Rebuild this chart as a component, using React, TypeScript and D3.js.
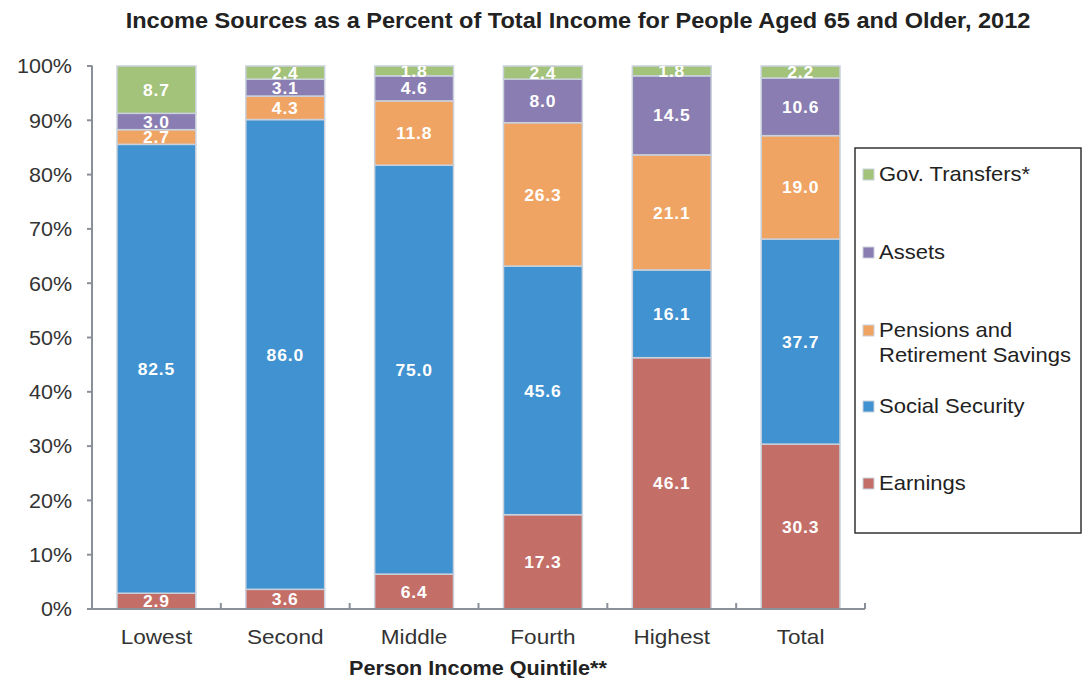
import * as d3 from "d3";
import { useEffect, useRef } from "react";

const categories = ["Lowest", "Second", "Middle", "Fourth", "Highest", "Total"];
const seriesNames = [
  "Earnings",
  "Social Security",
  "Pensions and Retirement Savings",
  "Assets",
  "Gov. Transfers*",
];
const earnings = [2.9, 3.6, 6.4, 17.3, 46.1, 30.3];
const socialSecurity = [82.5, 86.0, 75.0, 45.6, 16.1, 37.7];
const pensions = [2.7, 4.3, 11.8, 26.3, 21.1, 19.0];
const assets = [3.0, 3.1, 4.6, 8.0, 14.5, 10.6];
const govTransfers = [8.7, 2.4, 1.8, 2.4, 1.8, 2.2];
const yTicks = [0, 0.1, 0.2, 0.3, 0.4, 0.5, 0.6, 0.7, 0.8, 0.9, 1];

const colors = ["#c46e68", "#4192d0", "#f0a463", "#8a7db2", "#a3c27a"];

const FONT = "'Liberation Sans', Arial, sans-serif";

// text that is a bit wider than Arial, like the source image
function addText(
  parent: any,
  x: number,
  y: number,
  str: string,
  opt: { size: number; bold?: boolean; anchor?: string; sx?: number; fill?: string; dy?: string; ls?: number }
) {
  return parent
    .append("text")
    .attr("transform", `translate(${x},${y}) scale(${opt.sx ?? 1},1)`)
    .attr("dy", opt.dy ?? null)
    .attr("text-anchor", opt.anchor ?? "start")
    .attr("font-family", FONT)
    .attr("font-weight", opt.bold ? "bold" : "normal")
    .attr("font-size", opt.size)
    .attr("letter-spacing", opt.ls ?? null)
    .attr("fill", opt.fill ?? "#222")
    .text(str);
}

export default function App() {
  const ref = useRef<SVGSVGElement>(null);

  useEffect(() => {
    const svg = d3.select(ref.current);
    svg.selectAll("*").remove();

    const width = 1087;
    const height = 678;
    const left = 92;
    const right = 865;
    const top = 66;
    const bottom = 609;

    const allSeries = [earnings, socialSecurity, pensions, assets, govTransfers];
    const rows = categories.map((c, i) => {
      const r: any = { cat: c };
      seriesNames.forEach((s, j) => (r[s] = allSeries[j][i]));
      return r;
    });

    const stacked = d3
      .stack<any>()
      .keys(seriesNames)
      .offset(d3.stackOffsetExpand)(rows);

    const x = d3.scaleBand().domain(categories).range([left, right]).paddingInner(0.388).paddingOuter(0.194);
    const y = d3.scaleLinear().domain([0, 1]).range([bottom, top]);

    svg.attr("width", width).attr("height", height);

    addText(svg, 578, 28, "Income Sources as a Percent of Total Income for People Aged 65 and Older, 2012", {
      size: 22,
      bold: true,
      anchor: "middle",
      sx: 1.07,
    });

    svg
      .append("defs")
      .append("clipPath")
      .attr("id", "plotclip")
      .append("rect")
      .attr("x", 0)
      .attr("y", top)
      .attr("width", width)
      .attr("height", bottom - top + 20);

    // bars
    const groups = svg
      .append("g")
      .selectAll("g")
      .data(stacked)
      .enter()
      .append("g")
      .attr("fill", (d, i) => colors[i]);

    groups
      .selectAll("rect")
      .data((d) => d)
      .enter()
      .append("rect")
      .attr("x", (d) => x(d.data.cat)!)
      .attr("width", x.bandwidth())
      .attr("y", (d) => y(d[1]))
      .attr("height", (d) => y(d[0]) - y(d[1]))
      .attr("stroke", "#c9d1dc")
      .attr("stroke-width", 1.5);

    // labels
    const labels = svg.append("g").attr("clip-path", "url(#plotclip)");
    stacked.forEach((s, i) => {
      s.forEach((d) => {
        addText(
          labels,
          x(d.data.cat)! + x.bandwidth() / 2,
          (y(d[0]) + y(d[1])) / 2,
          d3.format(".1f")(allSeries[i][categories.indexOf(d.data.cat)]),
          { size: 17, bold: true, anchor: "middle", sx: 1.03, fill: "#fff", dy: "0.36em", ls: 0.8 }
        );
      });
    });

    // y axis
    const axisColor = "#8a9099";
    const yAxis = svg.append("g");
    yAxis
      .append("line")
      .attr("x1", left)
      .attr("x2", left)
      .attr("y1", top - 0.5)
      .attr("y2", bottom)
      .attr("stroke", axisColor)
      .attr("stroke-width", 2);
    yTicks.forEach((t) => {
      yAxis
        .append("line")
        .attr("x1", left - 5)
        .attr("x2", left)
        .attr("y1", y(t))
        .attr("y2", y(t))
        .attr("stroke", axisColor)
        .attr("stroke-width", 2);
      addText(yAxis, 72, y(t), d3.format(".0%")(t), {
        size: 20.5,
        anchor: "end",
        sx: 1.05,
        fill: "#333",
        dy: "0.36em",
      });
    });

    // x axis
    const xAxis = svg.append("g");
    xAxis
      .append("line")
      .attr("x1", left - 1)
      .attr("x2", right)
      .attr("y1", bottom)
      .attr("y2", bottom)
      .attr("stroke", axisColor)
      .attr("stroke-width", 2);
    categories.forEach((c, i) => {
      const bx = left + (i + 1) * x.step();
      xAxis
        .append("line")
        .attr("x1", bx)
        .attr("x2", bx)
        .attr("y1", bottom)
        .attr("y2", bottom - 6)
        .attr("stroke", axisColor)
        .attr("stroke-width", 2);
      addText(xAxis, x(c)! + x.bandwidth() / 2, 644, c, {
        size: 20,
        anchor: "middle",
        sx: 1.13,
        fill: "#333",
      });
    });

    addText(svg, 478, 675, "Person Income Quintile**", {
      size: 20,
      bold: true,
      anchor: "middle",
      sx: 1.08,
    });

    // legend
    const legend = svg.append("g");
    legend
      .append("rect")
      .attr("x", 855)
      .attr("y", 148)
      .attr("width", 226)
      .attr("height", 385)
      .attr("fill", "#fff")
      .attr("stroke", "#333")
      .attr("stroke-width", 1.5);

    const legendY = [174, 252, 330, 406, 483];
    const legendOrder = [4, 3, 2, 1, 0];
    legendOrder.forEach((si, k) => {
      const ly = legendY[k];
      legend
        .append("rect")
        .attr("x", 863)
        .attr("y", ly - 5)
        .attr("width", 11)
        .attr("height", 11)
        .attr("fill", colors[si])
        .attr("stroke", "#c9d1dc")
        .attr("stroke-width", 1);
      const name = seriesNames[si];
      const lines = name === "Pensions and Retirement Savings" ? ["Pensions and", "Retirement Savings"] : [name];
      lines.forEach((ln, j) => {
        addText(legend, 879, ly + j * 25, ln, { size: 20, sx: 1.1, dy: "0.36em" });
      });
    });
  }, []);

  return (
    <svg
      ref={ref}
      style={{ position: "absolute", left: 0, top: 0, background: "#fff" }}
    />
  );
}
